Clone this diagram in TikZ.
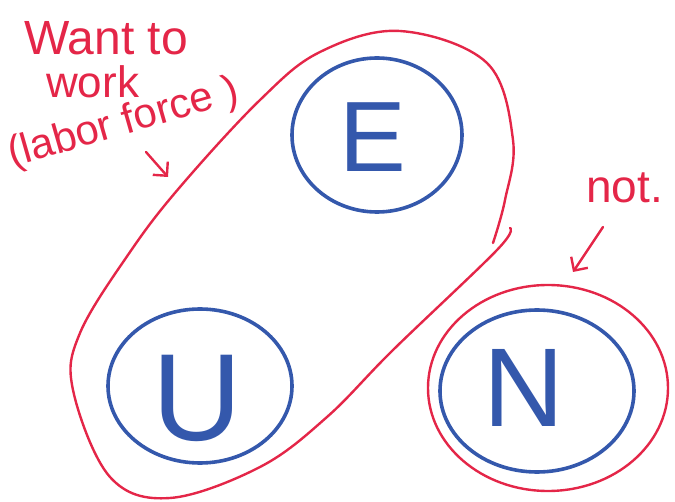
\documentclass[tikz,border=0pt]{standalone}
\usepackage{fontspec}
\setmainfont{Liberation Sans}
\usetikzlibrary{arrows.meta}
\definecolor{inkred}{RGB}{228,38,72}
\definecolor{inkblue}{RGB}{52,88,172}
\tikzset{
  redline/.style={draw=inkred, line width=2.4pt, line cap=round, line join=round},
  blueline/.style={draw=inkblue, line width=3.6pt, line cap=round},
  rednote/.style={text=inkred, font=\fontsize{44}{48}\selectfont, inner sep=0pt},
  bigletter/.style={text=inkblue, inner sep=0pt},
  redarrow/.style={redline, -{Straight Barb[length=10pt,width=20pt,line width=2.4pt]}}
}
\begin{document}
\begin{tikzpicture}[x=1pt,y=-1pt]
\useasboundingbox (0,0) rectangle (675,502);
% blue circles
\draw[blueline] (377,135) ellipse[x radius=85, y radius=77];
\draw[blueline] (200,386) ellipse[x radius=92, y radius=77];
\draw[blueline] (537,391) ellipse[x radius=97, y radius=81];
% red circle around N
\draw[redline] (548,388) ellipse[x radius=120, y radius=103];
% big red loop around E and U
\draw[redline] plot[smooth, tension=0.6] coordinates {
  (510,228) (497,250) (393,350) (327,417) (260,467) (170,498) (110,477)
  (73,390) (80,333) (130,252) (180,187) (260,100) (320,52) (400,31) (487,63)
  (513,140) (505,200) (493,243)};
% letters
\node[bigletter, font=\fontsize{100}{100}\selectfont] (E) at (373,137) {E};
\node[bigletter, font=\fontsize{124}{124}\selectfont] (U) at (197,398) {U};
\node[bigletter, font=\fontsize{112}{112}\selectfont] (N) at (524,388) {N};
% notes
\node[rednote, anchor=base west, font=\fontsize{48}{52}\selectfont] (want) at (24,55) {Want to};
\node[rednote, anchor=base west] (work) at (46,98) {work};
\node[rednote, anchor=base west, rotate=16, font=\fontsize{42}{46}\selectfont] (labor) at (12,167) {(labor force )};
\node[rednote, anchor=base west, font=\fontsize{46}{50}\selectfont] (not) at (586,203) {not.};
% arrows
\coordinate (a1s) at (146,152);
\coordinate (a1e) at (168,177);
\draw[redarrow] (a1s) -- (a1e);
\coordinate (a2s) at (603,227);
\coordinate (a2e) at (573,272);
\draw[redarrow] (a2s) -- (a2e);
\end{tikzpicture}
\end{document}
